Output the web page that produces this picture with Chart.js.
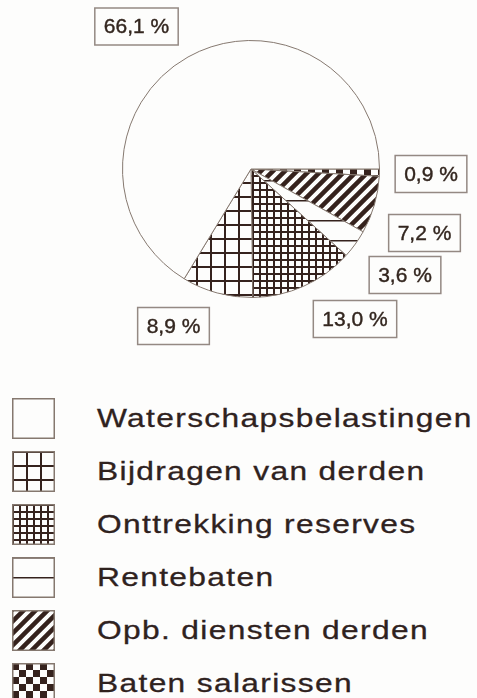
<!DOCTYPE html>
<html>
<head>
<meta charset="utf-8">
<script src="https://cdn.jsdelivr.net/npm/chart.js@4"></script>
<style>
  body { margin: 0; background: #fdfdfc; width: 477px; height: 698px; overflow: hidden; position: relative; }
  #pie { position: absolute; left: 0; top: 0; }
  #legend { position: absolute; left: 0; top: 392px; }
  .row { display: flex; align-items: center; height: 53px; }
  .row canvas { margin-left: 12px; width: 43px; height: 41px; }
  .row span {
    display: inline-block;
    margin-left: 42px;
    font-family: "Liberation Sans", Arial, sans-serif;
    font-size: 26px; letter-spacing: 1.1px; color: #2f221e;
    line-height: 53px; white-space: nowrap;
    transform: scaleX(1.22); transform-origin: left center;
    -webkit-text-stroke: 0.3px #2f221e;
  }
</style>
</head>
<body>
<canvas id="pie" width="477" height="360"></canvas>
<div id="legend"></div>
<script>
// slices clockwise from 3 o'clock
const labels = ['Baten salarissen', 'Opb. diensten derden', 'Rentebaten',
                'Onttrekking reserves', 'Bijdragen van derden', 'Waterschapsbelastingen'];
const shares = [0.9, 7.2, 3.6, 13.0, 8.9, 66.1];
const fills = ['checker', 'diag', 'hlines', 'finegrid', 'grid', 'plain'];

// where each value box sits, relative to the pie centre
const boxOffsets = [[180, 5], [173.5, 64], [154, 106], [104, 150], [-77.5, 157], [-114.5, -142.5]];

const INK = '#35221d';
const PAPER = '#fdfdfc';

function drawTile(kind) {
  const sizes = { checker: 14, diag: 12, hlines: 20, finegrid: 7, grid: 14, plain: 4 };
  const s = sizes[kind];
  const c = document.createElement('canvas');
  c.width = s; c.height = s;
  const g = c.getContext('2d');
  g.fillStyle = PAPER;
  g.fillRect(0, 0, s, s);
  g.fillStyle = INK;
  g.strokeStyle = INK;
  if (kind === 'checker') {
    g.fillRect(0, 0, s / 2, s / 2);
    g.fillRect(s / 2, s / 2, s / 2, s / 2);
  } else if (kind === 'diag') {
    g.lineWidth = 4.5;
    g.beginPath();
    for (const o of [-s, 0, s]) {
      g.moveTo(o - 2, s + 2);
      g.lineTo(o + s + 2, -2);
    }
    g.stroke();
  } else if (kind === 'hlines') {
    g.fillRect(0, 0, s, 1.5);
  } else if (kind === 'finegrid' || kind === 'grid') {
    g.fillRect(0, 0, 2, s);
    g.fillRect(0, 0, s, 2);
  }
  return c;
}

const ctx = document.getElementById('pie').getContext('2d');
const patterns = fills.map(k => ctx.createPattern(drawTile(k), 'repeat'));

const fmt = v => v.toFixed(1).replace('.', ',') + ' %';

const valueBoxes = {
  id: 'valueBoxes',
  afterDatasetsDraw(chart) {
    const c = chart.ctx;
    const arcs = chart.getDatasetMeta(0).data;
    c.save();
    c.font = '21px "Liberation Sans", Arial, sans-serif';
    c.textAlign = 'center';
    c.textBaseline = 'middle';
    arcs.forEach((arc, i) => {
      const cx = arc.x + boxOffsets[i][0];
      const cy = arc.y + boxOffsets[i][1];
      const text = fmt(shares[i]);
      const w = c.measureText(text).width + 18;
      const h = 37;
      c.fillStyle = PAPER;
      c.fillRect(cx - w / 2, cy - h / 2, w, h);
      c.strokeStyle = '#948983';
      c.lineWidth = 1.5;
      c.strokeRect(cx - w / 2, cy - h / 2, w, h);
      c.fillStyle = '#33261f';
      c.strokeStyle = '#33261f';
      c.lineWidth = 0.4;
      c.fillText(text, cx, cy + 1);
      c.strokeText(text, cx, cy + 1);
    });
    c.restore();
  }
};

const chart = new Chart(ctx, {
  type: 'pie',
  data: {
    labels: labels,
    datasets: [{
      data: shares,
      backgroundColor: patterns,
      borderColor: '#85786f',
      borderWidth: 1
    }]
  },
  options: {
    responsive: false,
    animation: false,
    rotation: 90,
    layout: { padding: { left: 122, right: 97, top: 40, bottom: 62 } },
    plugins: { legend: { display: false }, tooltip: { enabled: false } }
  },
  plugins: [valueBoxes]
});

// legend listed in the reverse of slice order
const legend = document.getElementById('legend');
labels.map((name, i) => ({ name, kind: fills[i] })).reverse().forEach(item => {
  const row = document.createElement('div');
  row.className = 'row';
  const sw = document.createElement('canvas');
  sw.width = 43; sw.height = 41;
  const g = sw.getContext('2d');
  g.fillStyle = g.createPattern(drawTile(item.kind), 'repeat');
  g.fillRect(0, 0, 43, 41);
  g.strokeStyle = '#85786f';
  g.lineWidth = 1.5;
  g.strokeRect(0.75, 0.75, 41.5, 39.5);
  const txt = document.createElement('span');
  txt.textContent = item.name;
  row.appendChild(sw);
  row.appendChild(txt);
  legend.appendChild(row);
});
</script>
</body>
</html>
